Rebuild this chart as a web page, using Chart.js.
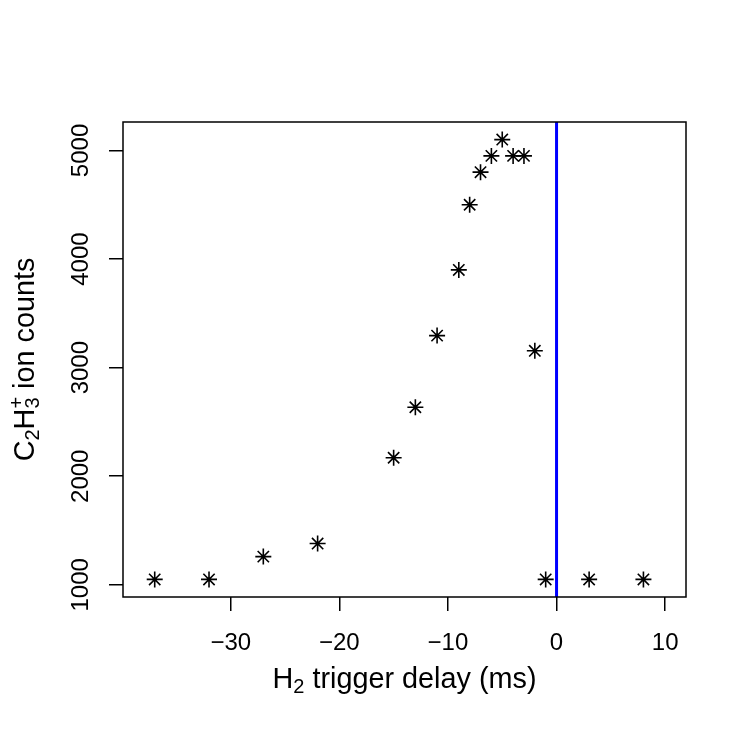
<!DOCTYPE html>
<html>
<head>
<meta charset="utf-8">
<script src="https://cdn.jsdelivr.net/npm/chart.js@4/dist/chart.umd.min.js"></script>
<style>
  body { margin: 0; background: #fff; }
  canvas { display: block; }
</style>
</head>
<body>
<canvas id="myChart" width="750" height="750"></canvas>
<script>
  // trigger delay (ms) and ion counts
  const delays = [-37, -32, -27, -22, -15, -13, -11, -9, -8, -7, -6, -5, -4, -3, -2, -1, 3, 8]
  const counts = [1050, 1050, 1260, 1380, 2170, 2635, 3295, 3900, 4500, 4800, 4950, 5100, 4950, 4950, 3155, 1050, 1050, 1050]
  const xTicks = [-30, -20, -10, 0, 10]
  const yTicks = [1000, 2000, 3000, 4000, 5000]
  const xRange = [-39.92, 11.92]
  const yRange = [888, 5262]
  const markerLine = 0

  const font = "'Liberation Sans', Arial, Helvetica, sans-serif"
  const ctx = document.getElementById('myChart')

  // pieces: [text, kind] kind = 'n' normal, 's' sub, 'p' sup, 'sp' stacked sub+sup
  const drawMath = (c, pieces, size) => {
    const small = Math.round(size * 0.7)
    const widthOf = (p) => {
      if (p[1] === 'n') { c.font = size + 'px ' + font; return c.measureText(p[0]).width }
      c.font = small + 'px ' + font
      if (p[1] === 'sp') return Math.max(c.measureText(p[0]).width, c.measureText(p[2]).width)
      return c.measureText(p[0]).width
    }
    const total = pieces.reduce((a, p) => a + widthOf(p), 0)
    let x = -total / 2
    c.textBaseline = 'alphabetic'
    c.textAlign = 'left'
    pieces.forEach(p => {
      const w = widthOf(p)
      if (p[1] === 'n') {
        c.font = size + 'px ' + font
        c.fillText(p[0], x, 0)
      } else {
        c.font = small + 'px ' + font
        if (p[1] === 's' || p[1] === 'sp') c.fillText(p[0], x, size * 0.16)
        if (p[1] === 'sp') c.fillText(p[2], x, -size * 0.38)
        if (p[1] === 'p') c.fillText(p[0], x, -size * 0.38)
      }
      x += w
    })
  }

  const framePlugin = {
    id: 'frame',
    beforeDatasetsDraw(chart) {
      const { ctx: c, chartArea: a, scales } = chart
      const px = scales.x.getPixelForValue(markerLine)
      c.save()
      c.strokeStyle = '#0000ff'
      c.lineWidth = 3
      c.beginPath()
      c.moveTo(px, a.top)
      c.lineTo(px, a.bottom)
      c.stroke()
      c.restore()
    },
    afterDraw(chart) {
      const { ctx: c, chartArea: a } = chart
      c.save()
      c.strokeStyle = '#000'
      c.lineWidth = 1.5
      c.strokeRect(a.left, a.top, a.right - a.left, a.bottom - a.top)
      c.fillStyle = '#000'
      // x title
      c.save()
      c.translate((a.left + a.right) / 2, 688)
      drawMath(c, [['H', 'n'], ['2', 's'], [' trigger delay (ms)', 'n']], 28.8)
      c.restore()
      // y title
      c.save()
      c.translate(34, (a.top + a.bottom) / 2)
      c.rotate(-Math.PI / 2)
      drawMath(c, [['C', 'n'], ['2', 's'], ['H', 'n'], ['3', 'sp', '+'], [' ion counts', 'n']], 28.8)
      c.restore()
      c.restore()
    }
  }

  new Chart(ctx, {
    type: 'scatter',
    data: {
      datasets: [{
        data: delays.map((d, i) => ({ x: d, y: counts[i] })),
        pointStyle: 'star',
        pointRadius: 8,
        pointHoverRadius: 8,
        borderColor: '#000',
        backgroundColor: '#000',
        pointBorderWidth: 1.6
      }]
    },
    options: {
      responsive: false,
      animation: false,
      events: [],
      layout: { padding: { top: 122, right: 64, left: 0, bottom: 0 } },
      plugins: { legend: { display: false }, tooltip: { enabled: false } },
      scales: {
        x: {
          type: 'linear',
          min: xRange[0],
          max: xRange[1],
          afterFit: (s) => { s.height = 153 },
          afterBuildTicks: (s) => { s.ticks = xTicks.map(v => ({ value: v })) },
          border: { display: false },
          grid: { drawOnChartArea: false, drawTicks: true, tickLength: 14, color: '#000', lineWidth: 1.5 },
          ticks: {
            color: '#000',
            padding: 18,
            font: { family: font, size: 24 },
            callback: (v) => String(v).replace('-', '\u2212')
          }
        },
        y: {
          type: 'linear',
          min: yRange[0],
          max: yRange[1],
          afterFit: (s) => { s.width = 123 },
          afterBuildTicks: (s) => { s.ticks = yTicks.map(v => ({ value: v })) },
          border: { display: false },
          grid: { drawOnChartArea: false, drawTicks: true, tickLength: 14, color: '#000', lineWidth: 1.5 },
          ticks: {
            color: '#000',
            padding: 1,
            minRotation: 90,
            maxRotation: 90,
            crossAlign: 'center',
            font: { family: font, size: 24 },
            callback: (v) => String(v)
          }
        }
      }
    },
    plugins: [framePlugin]
  })
</script>
</body>
</html>
